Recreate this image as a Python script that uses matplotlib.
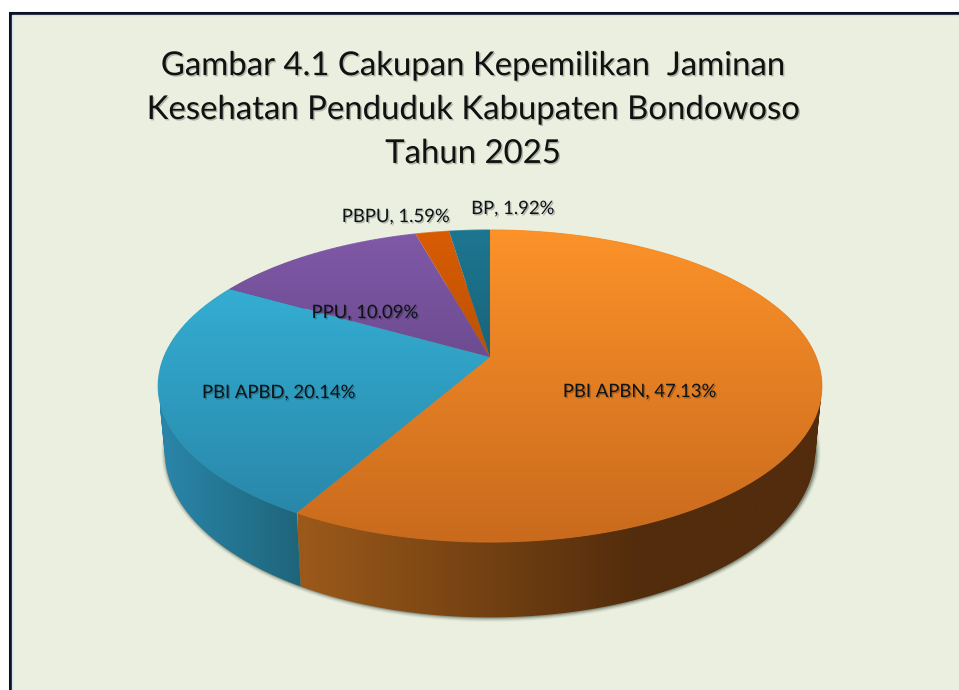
import numpy as np
import matplotlib
matplotlib.use('Agg')
import matplotlib.pyplot as plt
import matplotlib.patheffects as pe
from matplotlib.collections import LineCollection
from matplotlib.colors import LinearSegmentedColormap
from matplotlib.patches import PathPatch, Polygon, Rectangle
from matplotlib.path import Path

plt.rcParams['font.family'] = ['Lato', 'DejaVu Sans']

title_text = 'Gambar 4.1 Cakupan Kepemilikan  Jaminan\nKesehatan Penduduk Kabupaten Bondowoso\nTahun 2025'
categories = ['PBI APBN', 'PBI APBD', 'PPU', 'PBPU', 'BP']
values = [47.13, 20.14, 10.09, 1.59, 1.92]

# colours of the top face at the rim-top and at the rim-bottom of the pie
top_light = ['#fc9229', '#37b7dc', '#8059a8', '#d95c03', '#1d7690']
top_dark = ['#c96a1d', '#2783a5', '#52386f', '#8f4208', '#134a5d']
wall_left = ['#9c5a1a', '#2a86aa', '#5f437f', '#a74a0a', '#174f64']
wall_right = ['#522c0c', '#1e6479', '#5f437f', '#a74a0a', '#174f64']
label_xy = [(640, 392), (279, 393), (365, 313), (396, 217), (513, 209)]

# pie geometry in image pixels (circle seen in perspective)
cx, apex_y = 490, 357
a, b, k = 326, 150.6, 0.186
rim_cy = 386
depth = 66
bottom_sx, bottom_sy = 0.98, 1.06
top_y, bot_y = 230, 541


def rim(t1, t2, n=160):
    t = np.radians(np.linspace(t1, t2, n))
    u, v = np.sin(t), np.cos(t)
    w = 1 + k * v
    return cx + a * u / w, apex_y - b * v / w


def bottom_rim(t1, t2):
    x, y = rim(t1, t2)
    return cx + (x - cx) * bottom_sx, rim_cy + depth + (y - rim_cy) * bottom_sy


def gradient_fill(ax, path, stops, horizontal, extent, z):
    patch = PathPatch(path, fc='none', ec='none', zorder=z)
    ax.add_patch(patch)
    cmap = LinearSegmentedColormap.from_list('g', stops)
    grad = np.linspace(0, 1, 256)
    grad = grad.reshape(1, -1) if horizontal else grad.reshape(-1, 1)
    im = ax.imshow(grad, cmap=cmap, extent=extent, aspect='auto', origin='upper',
                   vmin=0, vmax=1, zorder=z, interpolation='bilinear')
    im.set_clip_path(patch)


def quad_path(p):
    # all quads need the same winding or their overlaps cancel out
    p = np.array(p)
    area = np.sum(p[:, 0] * np.roll(p[:, 1], -1) - np.roll(p[:, 0], -1) * p[:, 1])
    if area < 0:
        p = p[::-1]
    return Path(np.vstack([p, p[:1]]), closed=True)


fig = plt.figure(figsize=(9.59, 6.90), dpi=100, facecolor='white')
ax = fig.add_axes([0, 0, 1, 1])
ax.axis('off')

# panel
ax.add_patch(Rectangle((9.5, 12.5), 970, 700, fc='#ebefdf', ec='#0b1226', lw=2.2, zorder=1))
ax.add_patch(Rectangle((11.5, 14.5), 970, 700, fc='none', ec='#d5e2ea', lw=1, zorder=1))

# soft shadow under the pie
sx, sy = bottom_rim(0, 360)
for grow, alpha in zip([4.5, 3.5, 2.5, 1.5, 0.8], [0.05, 0.08, 0.12, 0.16, 0.2]):
    px = cx + (sx - cx) * (1 + grow / 326) + 1
    py = (rim_cy + depth) + (sy - rim_cy - depth) * (1 + grow / 165)
    ax.add_patch(Polygon(np.column_stack([px, py]), fc='#20301f', ec='none', alpha=alpha, zorder=2))

angles = np.concatenate([[0], np.cumsum(values) / np.sum(values) * 360])

# side walls as strips of small quads, so the silhouette closes at the sides
for i in range(len(values)):
    t1, t2 = angles[i], angles[i + 1]
    x1, y1 = rim(t1, t2)
    x2, y2 = bottom_rim(t1, t2)
    quads = []
    for j in range(len(x1) - 1):
        quads.append(quad_path([(x1[j], y1[j]), (x1[j + 1], y1[j + 1]), (x2[j + 1], y2[j + 1]), (x2[j], y2[j])]))
    wall = Path.make_compound_path(*quads)
    if i == 0:
        # dark on the right hand side, flat after about x=640
        stops = [(0, wall_left[i]), (0.65, wall_right[i]), (1, wall_right[i])]
        gradient_fill(ax, wall, stops, True, (298, 825, 625, 225), 3)
    else:
        gradient_fill(ax, wall, [wall_left[i], wall_right[i]], True, (160, 305, 625, 225), 3)

for i in range(len(values)):
    t1, t2 = angles[i], angles[i + 1]
    x, y = rim(t1, t2)
    face = np.vstack([[[cx, apex_y]], np.column_stack([x, y]), [[cx, apex_y]]])
    gradient_fill(ax, Path(face), [top_light[i], top_dark[i]], False, (150, 830, bot_y, top_y), 5)
    # thin edge following the gradient, so the clipped face does not look jagged
    cmap = LinearSegmentedColormap.from_list('e', [top_light[i], top_dark[i]])
    pts = np.column_stack([x, y])
    segs = np.stack([pts[:-1], pts[1:]], axis=1)
    ax.add_collection(LineCollection(segs, colors=cmap((y[:-1] - top_y) / (bot_y - top_y)), lw=0.8, zorder=5.5))

shadow = [pe.SimplePatchShadow(offset=(1, -1), shadow_rgbFace='#000000', alpha=0.25), pe.Normal()]
for cat, val, (lx, ly) in zip(categories, values, label_xy):
    ax.text(lx, ly, '{}, {:.2f}%'.format(cat, val), ha='center', va='center', fontsize=13.3, color='#0c1418',
            path_effects=shadow, zorder=7)

ax.text(473, 110, title_text, ha='center', va='center', fontsize=23.7, linespacing=1.58, color='#111111',
        path_effects=shadow, zorder=7)

ax.set_xlim(0, 959)
ax.set_ylim(690, 0)
fig.savefig('out.png', dpi=100, facecolor='white')
